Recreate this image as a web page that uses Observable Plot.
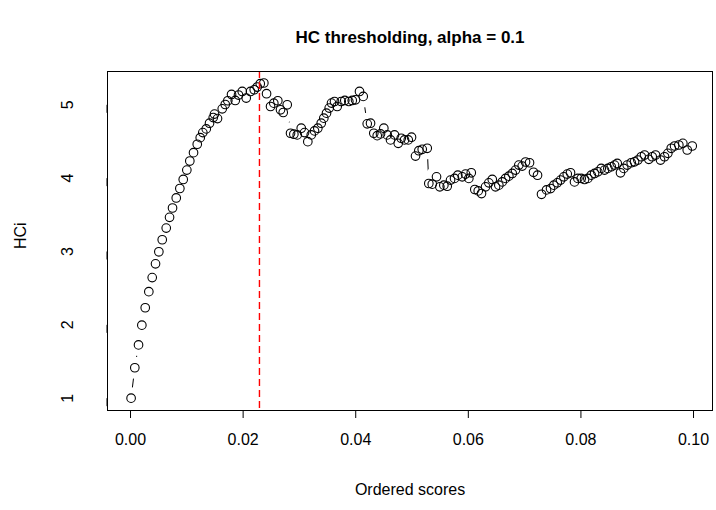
<!DOCTYPE html>
<html>
<head>
<meta charset="utf-8">
<script src="https://cdn.jsdelivr.net/npm/d3@7"></script>
<script src="https://cdn.jsdelivr.net/npm/@observablehq/plot@0.6"></script>
<style>
  html, body { margin: 0; padding: 0; background: white; }
  #title {
    width: 716px; height: 60px; box-sizing: border-box;
    padding-top: 28px; padding-left: 104px;
    text-align: center; line-height: 20px;
    font: bold 17px "Liberation Sans", Arial, sans-serif; color: black;
  }
</style>
</head>
<body>
<div id="title">HC thresholding, alpha = 0.1</div>
<div id="chart"></div>
<script>
const scores = [0.0001,0.00076,0.00142,0.00201,0.00261,0.00325,0.00385,0.00444,0.00503,0.00563,
0.00634,0.00693,0.00746,0.00812,0.00876,0.00936,0.0100,0.01053,0.01119,0.01185,
0.01238,0.01284,0.01345,0.01403,0.01469,0.01492,0.01545,0.01629,0.01682,0.01728,
0.01794,0.0186,0.01918,0.01984,0.02055,0.02131,0.02197,0.0225,0.02304,0.02368,
0.02416,0.02487,0.02545,0.02616,0.02664,0.02712,0.02783,0.02842,0.02901,0.02961,
0.03032,0.03091,0.03149,0.0321,0.03268,0.03327,0.03387,0.03433,0.03481,0.03529,
0.0357,0.03623,0.03671,0.03742,0.03806,0.03877,0.03938,0.03996,0.04067,0.04133,
0.04204,0.04263,0.04321,0.04382,0.0444,0.04499,0.0456,0.04618,0.04689,0.04755,
0.04808,0.04867,0.04933,0.04991,0.05062,0.05121,0.05181,0.0527,0.05298,0.05359,
0.05435,0.05494,0.05565,0.05625,0.05684,0.05755,0.05813,0.05892,0.0595,0.06009,
0.06052,0.06115,0.06176,0.06234,0.06306,0.06364,0.06425,0.06483,0.06542,0.06602,
0.06661,0.0672,0.0678,0.06838,0.06897,0.06957,0.07016,0.07087,0.07158,0.07229,
0.073,0.07389,0.0746,0.07519,0.07579,0.07638,0.07696,0.07757,0.07815,0.07886,
0.07945,0.08005,0.08064,0.08123,0.08183,0.08242,0.083,0.08361,0.08419,0.08478,
0.08538,0.08597,0.08645,0.08703,0.08762,0.08822,0.08893,0.08952,0.09011,0.09071,
0.0913,0.09206,0.09266,0.09325,0.09414,0.09485,0.09544,0.09604,0.09663,0.09739,
0.0981,0.09888,0.09977];

const hc = [1.00,1.415,1.726,1.996,2.233,2.452,2.644,2.832,2.996,3.160,
3.319,3.466,3.593,3.730,3.859,3.982,4.110,4.233,4.347,4.462,
4.552,4.621,4.671,4.749,4.826,4.873,4.812,4.945,5.004,5.055,
5.141,5.059,5.133,5.182,5.092,5.182,5.205,5.242,5.288,5.297,
5.151,4.977,5.022,5.055,4.932,4.895,5.000,4.612,4.599,4.589,
4.681,4.621,4.497,4.589,4.644,4.681,4.749,4.818,4.886,4.955,
5.023,5.045,4.977,5.045,5.059,5.045,5.059,5.068,5.182,5.114,
4.740,4.749,4.612,4.579,4.603,4.681,4.589,4.521,4.589,4.475,
4.544,4.521,4.521,4.558,4.301,4.374,4.393,4.407,3.927,3.918,
4.018,3.881,3.904,3.890,3.973,3.996,4.041,4.018,4.055,3.996,
4.073,3.845,3.826,3.790,3.881,3.936,3.982,3.881,3.904,3.949,
3.996,4.027,4.064,4.110,4.178,4.164,4.22,4.21,4.08,4.04,
3.78,3.84,3.858,3.904,3.936,3.973,4.018,4.055,4.073,3.949,
3.996,3.996,3.982,3.996,4.041,4.064,4.086,4.133,4.110,4.133,
4.155,4.178,4.200,4.073,4.133,4.178,4.210,4.223,4.247,4.292,
4.315,4.256,4.292,4.315,4.247,4.292,4.338,4.407,4.438,4.452,
4.475,4.384,4.438];

const threshold = 0.0229;
const xTicks = [0, 0.02, 0.04, 0.06, 0.08, 0.10];
const xTickLabels = ["0.00", "0.02", "0.04", "0.06", "0.08", "0.10"];
const yTicks = [1, 2, 3, 4, 5];
const yTickLabels = ["1", "2", "3", "4", "5"];

const data = scores.map((s, i) => ({score: s, hc: hc[i]}));

const chart = Plot.plot({
  width: 716,
  height: 450,
  marginLeft: 107,
  marginRight: 4,
  marginTop: 11,
  marginBottom: 100,
  style: {fontFamily: '"Liberation Sans", Arial, sans-serif', fontSize: "16px", background: "white", color: "black"},
  x: {domain: [-0.00409, 0.10337]},
  y: {domain: [0.832, 5.454]},
  marks: [
    Plot.line(data, {x: "score", y: "hc", stroke: "black", strokeWidth: 1}),
    Plot.dot(data, {x: "score", y: "hc", r: 11, fill: "white", stroke: "none"}),
    Plot.dot(data, {x: "score", y: "hc", r: 4.3, fill: "none", stroke: "black", strokeWidth: 1.1}),
    Plot.ruleX([threshold], {stroke: "#ff0000", strokeWidth: 1.4, strokeDasharray: "7,4"}),
    Plot.frame({stroke: "black", strokeWidth: 1}),
    Plot.axisX(xTicks, {tickSize: 8, tickPadding: 15, tickFormat: (d, i) => xTickLabels[i], label: null, fontSize: 16}),
    Plot.axisY(yTicks, {tickSize: 8, tickPadding: 32, tickFormat: (d, i) => yTickLabels[i], rotate: -90, textAnchor: "middle", label: null, fontSize: 16}),
    Plot.text(["Ordered scores"], {frameAnchor: "bottom", dy: 84, fontSize: 16}),
    Plot.text(["HCi"], {frameAnchor: "left", dx: -87, dy: 8, rotate: -90, fontSize: 16})
  ]
});
document.getElementById("chart").appendChild(chart);
</script>
</body>
</html>
